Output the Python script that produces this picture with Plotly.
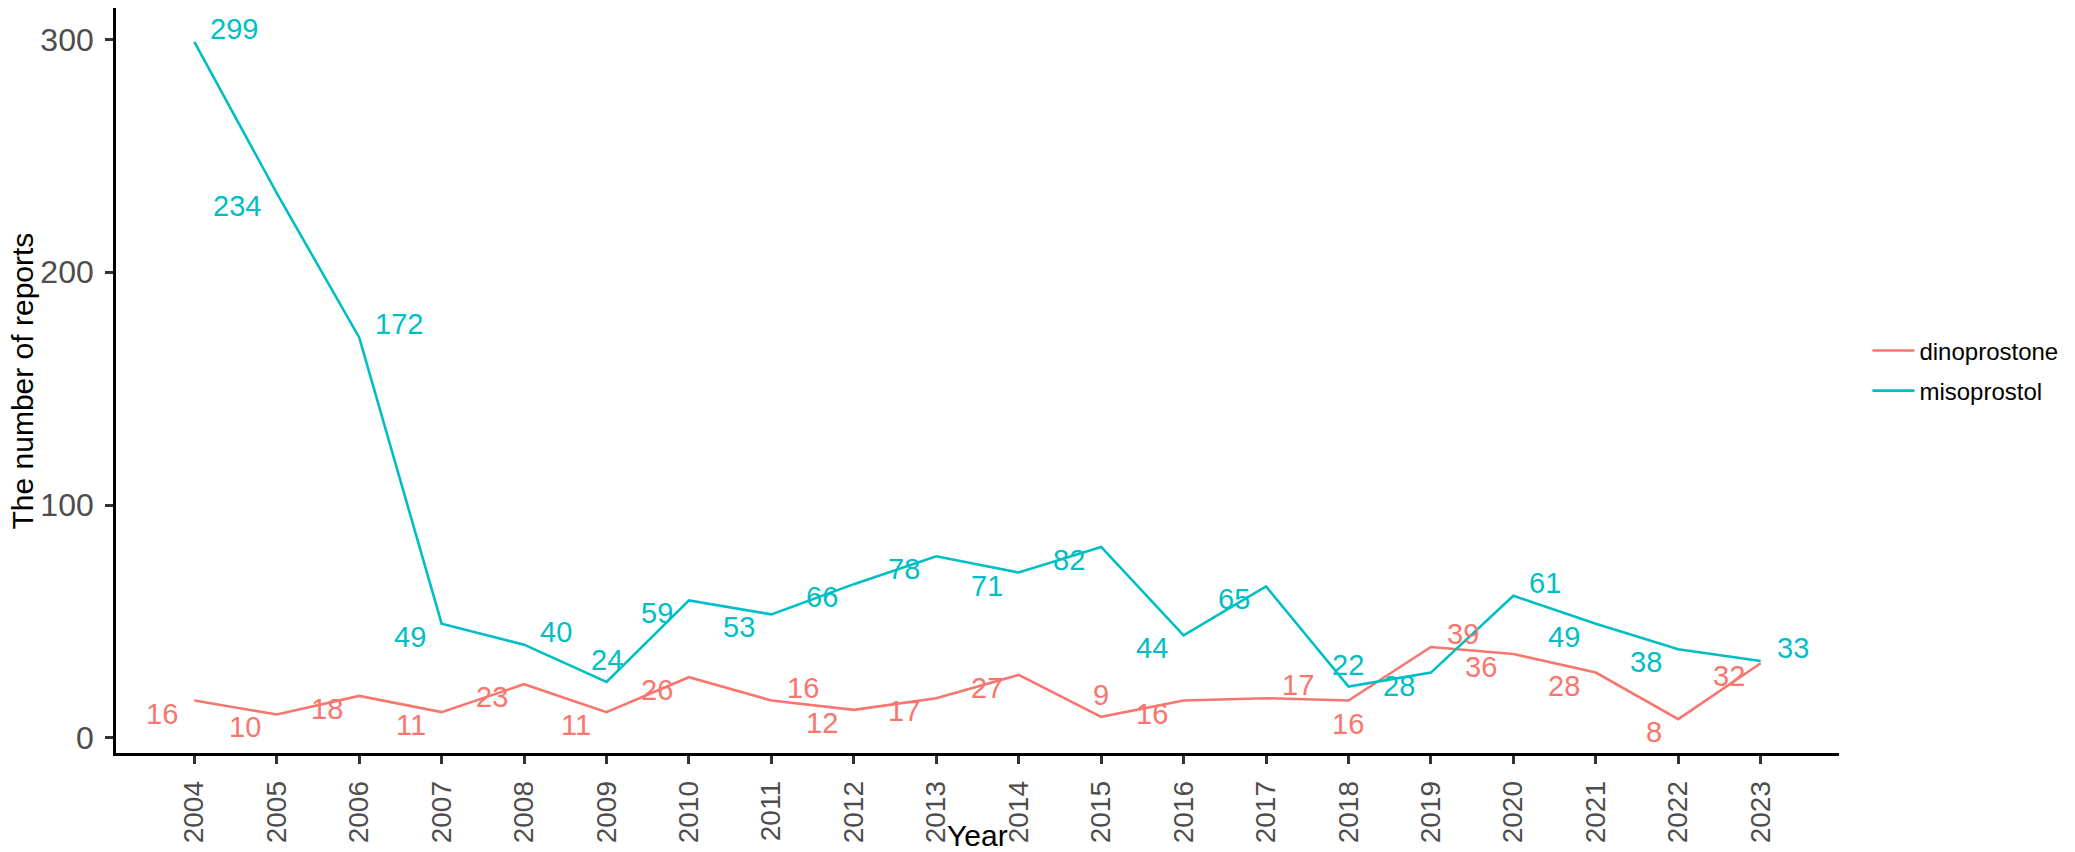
import plotly.graph_objects as go

# data
years = [2004, 2005, 2006, 2007, 2008, 2009, 2010, 2011, 2012, 2013,
         2014, 2015, 2016, 2017, 2018, 2019, 2020, 2021, 2022, 2023]
dinoprostone = [16, 10, 18, 11, 23, 11, 26, 16, 12, 17,
                27, 9, 16, 17, 16, 39, 36, 28, 8, 32]
misoprostol = [299, 234, 172, 49, 40, 24, 59, 53, 66, 78,
               71, 82, 44, 65, 22, 28, 61, 49, 38, 33]
y_ticks = [0, 100, 200, 300]

# where each value label sits relative to its point
dino_pos = ['bl', 'bl', 'bl', 'bl', 'bl', 'bl', 'bl', 'tr', 'bl', 'bl',
            'bl', 't', 'bl', 'tr', 'b', 'tr', 'bl', 'bl', 'bl', 'bl']
miso_pos = ['tr', 'bl', 'tr', 'bl', 'tr', 't', 'bl', 'bl', 'bl', 'bl',
            'bl', 'bl', 'bl', 'bl', 't', 'bl', 'tr', 'bl', 'bl', 'tr']

RED = '#F8766D'
CYAN = '#00BFC4'
FONT = 'Liberation Sans, Arial, sans-serif'

fig = go.Figure()
fig.add_trace(go.Scatter(x=years, y=dinoprostone, mode='lines', name='dinoprostone',
                         line=dict(color=RED, width=2.6), legendgroup='d'))
fig.add_trace(go.Scatter(x=years, y=misoprostol, mode='lines', name='misoprostol',
                         line=dict(color=CYAN, width=2.6), legendgroup='m'))

# 数值标签
shift = {
    'bl': dict(xanchor='right', xshift=-14, yshift=-13),
    'tr': dict(xanchor='left', xshift=14, yshift=13),
    't': dict(xanchor='center', xshift=0, yshift=22),
    'b': dict(xanchor='center', xshift=0, yshift=-23),
}
annotations = []
for vals, pos, col in [(dinoprostone, dino_pos, RED), (misoprostol, miso_pos, CYAN)]:
    for yr, v, p in zip(years, vals, pos):
        annotations.append(dict(x=yr, y=v, xref='x', yref='y', text=str(v), showarrow=False,
                                yanchor='middle', font=dict(size=29, color=col, family=FONT),
                                **shift[p]))

# axis titles
annotations.append(dict(text='Year', xref='paper', yref='paper', x=0.5, y=-0.086,
                        xanchor='center', yanchor='top', showarrow=False,
                        font=dict(size=30, color='black', family=FONT)))
annotations.append(dict(text='The number of reports', xref='paper', yref='paper',
                        x=-0.054, y=0.5, xanchor='center', yanchor='middle', textangle=-90,
                        showarrow=False, font=dict(size=30, color='black', family=FONT)))

fig.update_xaxes(range=[2003.05, 2023.95], tickvals=years, tickangle=-90,
                 showline=True, linecolor='black', linewidth=2.7,
                 ticks='outside', ticklen=8, tickwidth=2.7, tickcolor='#333333',
                 tickfont=dict(size=28, color='#4D4D4D', family=FONT),
                 showgrid=False, zeroline=False, ticklabelstandoff=6)
fig.update_yaxes(range=[-6.55, 313.55], tickvals=y_ticks,
                 showline=True, linecolor='black', linewidth=2.7,
                 ticks='outside', ticklen=8, tickwidth=2.7, tickcolor='#333333',
                 tickfont=dict(size=32, color='#4D4D4D', family=FONT),
                 showgrid=False, zeroline=False, ticklabelstandoff=5)

fig.update_layout(
    width=2075, height=852,
    margin=dict(l=108, r=244, t=0, b=107),
    plot_bgcolor='white', paper_bgcolor='white',
    font=dict(family=FONT),
    annotations=annotations,
    legend=dict(x=1.0165, y=0.57, xanchor='left', yanchor='top',
                font=dict(size=24, color='black', family=FONT), itemwidth=42,
                tracegroupgap=6, traceorder='grouped', bgcolor='rgba(0,0,0,0)'),
)

fig.write_html('out.html')
